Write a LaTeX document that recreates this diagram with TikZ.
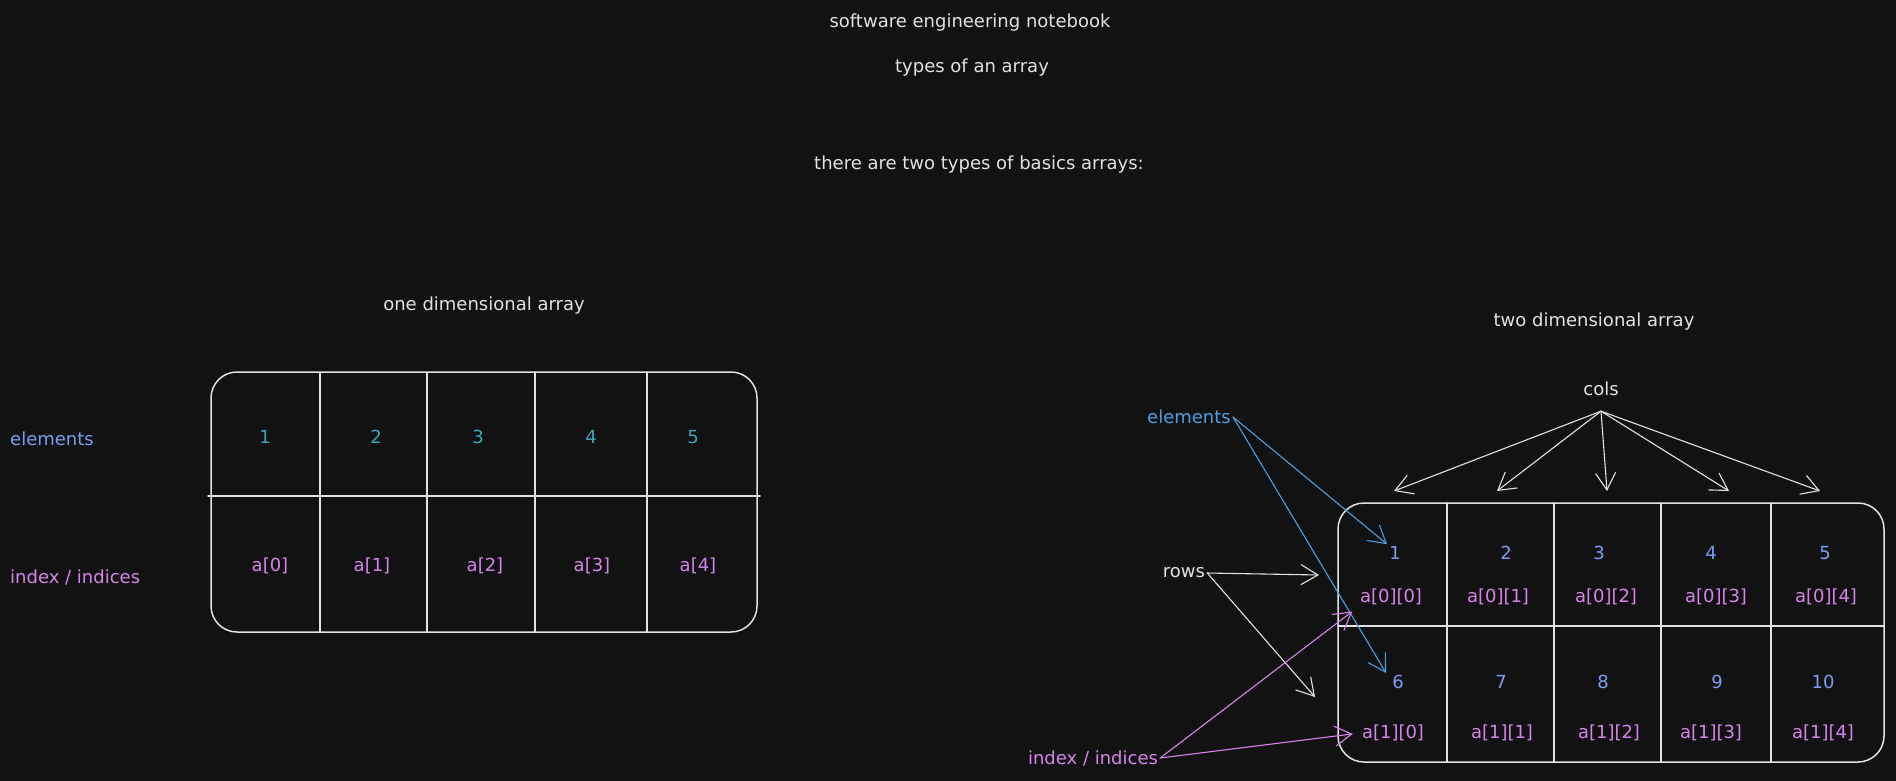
\documentclass[tikz,border=0pt]{standalone}
\usepackage{fontspec}
\setmainfont{DejaVu Sans}
\usetikzlibrary{arrows.meta}

\definecolor{board}{HTML}{121212}
\definecolor{chalk}{HTML}{E2E2E2}
\definecolor{lilac}{HTML}{7B9DF2}
\definecolor{numteal}{HTML}{3AA6B9}
\definecolor{orchid}{HTML}{D684EA}
\definecolor{sky}{HTML}{4C9FE0}

\begin{document}
\begin{tikzpicture}[
    x=1pt, y=-1pt,
    every node/.style={font=\fontsize{18}{22}\selectfont, inner sep=2pt},
    chalkt/.style={text=chalk},
    lilact/.style={text=lilac},
    tealt/.style={text=numteal},
    orchidt/.style={text=orchid},
    skyt/.style={text=sky},
    frame/.style={draw=chalk, line width=1.5pt, line cap=round},
    arr/.style={line width=1.1pt, line cap=round, -{Straight Barb[length=17pt, width=20pt]}}
]
    \useasboundingbox (0, 0) rectangle (1896, 780);
    \fill[board] (-4, -4) rectangle (1900, 784);
    \node[chalkt] (notebook) at (970, 23) {software engineering notebook};
    \node[chalkt] (types) at (972, 68) {types of an array};
    \node[chalkt] (basics) at (979, 165) {there are two types of basics arrays:};
    \node[chalkt] (onedim) at (484, 306) {one dimensional array};
    \node[chalkt] (twodim) at (1594, 322) {two dimensional array};

    \node[lilact] (elemsleft) at (52, 439) {elements};
    \node[orchidt, anchor=west] (idxleft) at (8, 577) {index / indices};
    \draw[frame, rounded corners=26pt] (211, 372) rectangle (757, 632);
    \draw[frame]
        (208, 496) -- (760, 496)
        \foreach \x in {320, 427, 535, 647} {
            (\x, 372) -- (\x, 632)
        };
    \path
        \foreach \x/\v [count=\i] in {265/1, 376/2, 478/3, 591/4, 693/5} {
            (\x, 437) node[tealt] (e\i) {\v}
        }
        \foreach \x/\v [count=\i] in {270/0, 372/1, 485/2, 592/3, 698/4} {
            (\x, 566) node[orchidt] (li\i) {a[\v]}
        };

    \draw[frame, rounded corners=26pt] (1338, 503) rectangle (1884, 762);
    \draw[frame]
        (1338, 626) -- (1884, 626)
        \foreach \x in {1447, 1554, 1661, 1771} {
            (\x, 503) -- (\x, 762)
        };
    \path
        \foreach \x/\v [count=\i] in {1395/1, 1506/2, 1599/3, 1711/4, 1825/5} {
            (\x, 553) node[lilact] (n\i) {\v}
        }
        \foreach \x/\v [count=\i from 6] in {1398/6, 1501/7, 1603/8, 1717/9, 1823/10} {
            (\x, 682) node[lilact] (n\i) {\v}
        }
        \foreach \x/\v [count=\i] in {1391/0, 1498/1, 1606/2, 1716/3, 1826/4} {
            (\x, 597) node[orchidt] (ix\i) {a[0][\v]}
        }
        \foreach \x/\v [count=\i from 6] in {1393/0, 1502/1, 1609/2, 1711/3, 1823/4} {
            (\x, 733) node[orchidt] (ix\i) {a[1][\v]}
        };

    \node[chalkt] (cols) at (1601, 389) {cols};
    \coordinate (colsfoot) at ([yshift=-13pt]cols.south);
    \foreach \x [count=\i] in {1394, 1497, 1607, 1729, 1820} {
        \coordinate (top\i) at (\x, 491);
        \draw[arr, draw=chalk] (colsfoot) -- (top\i);
    }

    \node[skyt] (elemsright) at (1189, 417) {elements};
    \draw[arr, draw=sky] (elemsright.east) -- (n1.north west);
    \draw[arr, draw=sky] (elemsright.east) -- ([xshift=-4pt]n6.north west);

    \node[chalkt] (rows) at (1184, 573) {rows};
    \coordinate (rowtop) at (1319, 575);
    \coordinate (rowbot) at (1315, 697);
    \draw[arr, draw=chalk] (rows.east) -- (rowtop);
    \draw[arr, draw=chalk] (rows.east) -- (rowbot);

    \node[orchidt] (idxright) at (1093, 758) {index / indices};
    \draw[arr, draw=orchid, shorten >=7pt] (idxright.east) -- (ix1.south west);
    \draw[arr, draw=orchid, shorten >=7pt] (idxright.east) -- (ix6.west);
\end{tikzpicture}
\end{document}
